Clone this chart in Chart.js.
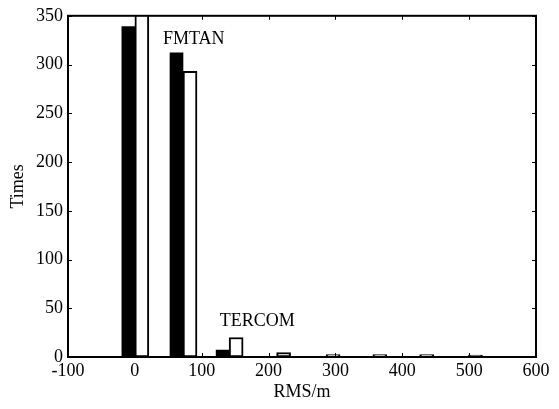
<!DOCTYPE html>
<html>
<head>
<meta charset="utf-8">
<script src="https://cdn.jsdelivr.net/npm/chart.js@4/dist/chart.umd.min.js"></script>
<style>
  html, body { margin: 0; padding: 0; background: #fff; }
  #wrap { width: 559px; height: 409px; }
</style>
</head>
<body>
<div id="wrap"><canvas id="myChart" width="559" height="409"></canvas></div>
<script>
// bin positions (RMS, m) and counts
const binX = [0, 72, 141, 212, 286, 356, 426, 499];
const fmtanTimes = [339, 312, 7, 0, 0, 0, 0, 0];
const tercomTimes = [352, 293, 20, 4.5, 2.5, 2.5, 2.5, 2];
const xTicks = [-100, 0, 100, 200, 300, 400, 500, 600];
const yTicks = [0, 50, 100, 150, 200, 250, 300, 350];

const FONT = 'Liberation Serif, Times New Roman, serif';

// labels written inside the plot, in data units
const notes = [
  {text: 'FMTAN', x: 42, y: 321},
  {text: 'TERCOM', x: 127, y: 32},
];

const toPoints = (vals) => binX.map((x, i) => ({x: x, y: vals[i]}));

// frame on top/right, inward ticks on all sides, text labels
const framePlugin = {
  id: 'frame',
  afterDatasetsDraw(chart) {
    const {ctx, chartArea: a, scales: {x, y}} = chart;
    ctx.save();
    ctx.strokeStyle = '#000';
    ctx.lineWidth = 2;
    ctx.strokeRect(a.left, a.top, a.right - a.left, a.bottom - a.top);
    ctx.lineWidth = 1;
    ctx.beginPath();
    yTicks.forEach(v => {
      const py = Math.round(y.getPixelForValue(v)) + 0.5;
      ctx.moveTo(a.left, py); ctx.lineTo(a.left + 4, py);
      ctx.moveTo(a.right, py); ctx.lineTo(a.right - 4, py);
    });
    xTicks.forEach(v => {
      const px = Math.round(x.getPixelForValue(v)) + 0.5;
      ctx.moveTo(px, a.bottom); ctx.lineTo(px, a.bottom - 4);
      ctx.moveTo(px, a.top); ctx.lineTo(px, a.top + 4);
    });
    ctx.stroke();
    ctx.fillStyle = '#000';
    ctx.font = '18px ' + FONT;
    ctx.textAlign = 'left';
    ctx.textBaseline = 'alphabetic';
    notes.forEach(n => {
      ctx.fillText(n.text, x.getPixelForValue(n.x), y.getPixelForValue(n.y));
    });
    ctx.restore();
  }
};

const config = {
  type: 'bar',
  data: {
    datasets: [{
      label: 'FMTAN',
      data: toPoints(fmtanTimes),
      backgroundColor: '#000',
      borderWidth: 0,
      barThickness: 13,
    }, {
      label: 'TERCOM',
      data: toPoints(tercomTimes),
      backgroundColor: '#fff',
      borderColor: '#000',
      borderWidth: 2,
      borderSkipped: false,
      barThickness: 14,
    }]
  },
  options: {
    responsive: false,
    animation: false,
    devicePixelRatio: 1,
    layout: {padding: {top: 13, right: 23, left: 0, bottom: 0}},
    plugins: {
      legend: {display: false},
      tooltip: {enabled: false}
    },
    scales: {
      x: {
        type: 'linear',
        min: -100,
        max: 600,
        offset: false,
        afterFit: (s) => { s.height = 52; },
        afterBuildTicks: (s) => { s.ticks = xTicks.map(v => ({value: v})); },
        grid: {display: false, drawTicks: false},
        border: {display: true, color: '#000', width: 2},
        ticks: {color: '#000', padding: 3, maxRotation: 0, font: {family: FONT, size: 18}},
        title: {display: true, text: 'RMS/m', color: '#000', padding: {top: 0, bottom: 6}, font: {family: FONT, size: 18}}
      },
      y: {
        min: 0,
        max: 350,
        afterFit: (s) => { s.width = 68; },
        afterBuildTicks: (s) => { s.ticks = yTicks.map(v => ({value: v})); },
        grid: {display: false, drawTicks: false},
        border: {display: true, color: '#000', width: 2},
        ticks: {color: '#000', padding: 5, font: {family: FONT, size: 18}},
        title: {display: true, text: 'Times', color: '#000', padding: {top: 7, bottom: 0}, font: {family: FONT, size: 18}}
      }
    }
  },
  plugins: [framePlugin]
};

const myChart = new Chart(document.getElementById('myChart'), config);
</script>
</body>
</html>
